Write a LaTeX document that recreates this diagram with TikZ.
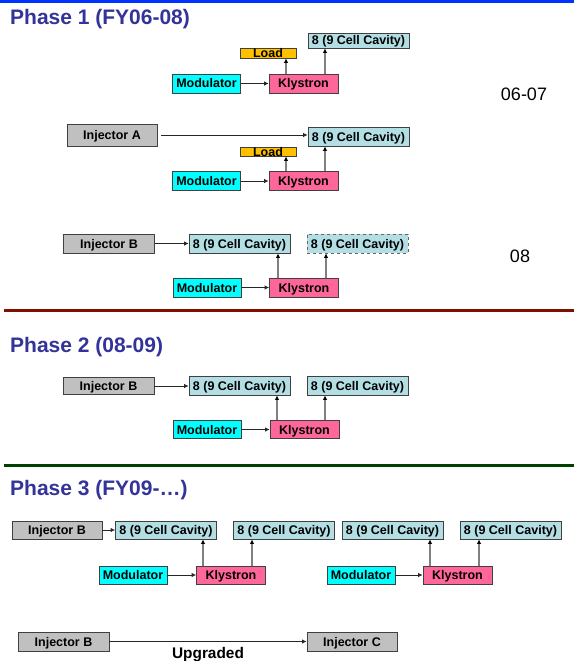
\documentclass[tikz,border=0pt]{standalone}
\usepackage{fontspec}
\setmainfont{Liberation Sans}
\usetikzlibrary{arrows.meta}

\definecolor{titleblue}{RGB}{51,51,153}
\definecolor{barblue}{RGB}{0,51,255}
\definecolor{barred}{RGB}{128,16,0}
\definecolor{bargreen}{RGB}{0,64,0}
\definecolor{modcyan}{RGB}{0,255,255}
\definecolor{klypink}{RGB}{255,102,153}
\definecolor{cavblue}{RGB}{178,222,228}
\definecolor{loadorange}{RGB}{255,192,0}
\definecolor{injgray}{RGB}{192,192,192}

\tikzset{
	box/.style={draw=black!75,line width=0.8pt,inner sep=0pt,minimum height=19pt,text height=9pt,text depth=0pt,font=\bfseries\fontsize{12.5}{14}\selectfont},
	modbox/.style={box,fill=modcyan,minimum width=68pt},
	klybox/.style={box,fill=klypink,minimum width=69pt},
	cavbox/.style={box,fill=cavblue,minimum width=101pt},
	injbox/.style={box,fill=injgray,minimum width=91pt},
	loadbox/.style={box,fill=loadorange,minimum width=56pt,minimum height=10pt},
	feed/.style={-{Latex[length=4.5pt,width=4.5pt]},line width=0.8pt,draw=black!85},
	rf/.style={-{Latex[length=4.5pt,width=4.5pt,black]},line width=1.1pt,draw=black!50},
	phase/.style={anchor=base west,text=titleblue,inner sep=0pt,font=\bfseries\fontsize{21}{24}\selectfont},
	year/.style={font=\fontsize{18}{20}\selectfont},
}

\begin{document}
\begin{tikzpicture}[x=1pt,y=-1pt]
	\useasboundingbox (0,0) rectangle (574,661);

	% section bars
	\draw[barblue,line width=3pt] (0,1.5) -- (574,1.5);
	\draw[barred,line width=3pt] (4,310) -- (574,310);
	\draw[bargreen,line width=3pt] (4,465) -- (574,465);

	% ---- phase 1
	\node[phase] (ph1) at (10,25) {Phase 1 (FY06-08)};
	\node[year] (y1) at (524,94) {06-07};
	\node[year] (y2) at (520,256) {08};

	\node[loadbox] (load1) at (268,53) {Load};
	\node[cavbox,minimum height=15pt] (cav1) at (358.5,40.5) {8 (9 Cell Cavity)};
	\node[modbox] (mod1) at (206.5,83.5) {Modulator};
	\node[klybox] (kly1) at (303.5,83.5) {Klystron};
	\draw[feed] (mod1) -- (kly1);
	\draw[rf] (kly1.north -| 286,0) -- (load1.south -| 286,0);
	\draw[rf] (kly1.north -| 325,0) -- (cav1.south -| 325,0);

	\node[injbox,minimum width=90pt,minimum height=22pt] (injA) at (112,135) {Injector A};
	\node[cavbox] (cav2) at (358.5,136.5) {8 (9 Cell Cavity)};
	\node[loadbox,minimum height=9pt] (load2) at (268,151.5) {Load};
	\node[modbox] (mod2) at (206.5,181) {Modulator};
	\node[klybox] (kly2) at (303.5,181) {Klystron};
	\draw[feed,shorten <=4pt] (injA.east) -- (cav2.west |- injA.east);
	\draw[feed] (mod2) -- (kly2);
	\draw[rf] (kly2.north -| 286,0) -- (load2.south -| 286,0);
	\draw[rf] (kly2.north -| 325,0) -- (cav2.south -| 325,0);

	\node[injbox] (injB1) at (109,243.5) {Injector B};
	\node[cavbox] (cav3) at (239.5,243.5) {8 (9 Cell Cavity)};
	\node[cavbox,dashed,draw=black!60] (cav4) at (357.5,243.5) {8 (9 Cell Cavity)};
	\node[modbox] (mod3) at (207,287.5) {Modulator};
	\node[klybox] (kly3) at (304,287.5) {Klystron};
	\draw[feed] (injB1) -- (cav3);
	\draw[feed] (mod3) -- (kly3);
	\draw[rf] (kly3.north -| 278,0) -- (cav3.south -| 278,0);
	\draw[rf] (kly3.north -| 326,0) -- (cav4.south -| 326,0);

	% ---- phase 2
	\node[phase] (ph2) at (10,352) {Phase 2 (08-09)};

	\node[injbox,minimum height=17pt] (injB2) at (108.5,386) {Injector B};
	\node[cavbox] (cav5) at (239.5,385.5) {8 (9 Cell Cavity)};
	\node[cavbox] (cav6) at (357.5,385.5) {8 (9 Cell Cavity)};
	\node[modbox,minimum height=18pt] (mod4) at (207,429.5) {Modulator};
	\node[klybox,minimum height=18pt] (kly4) at (304.5,429.5) {Klystron};
	\draw[feed] (injB2) -- (cav5.west |- injB2);
	\draw[feed] (mod4) -- (kly4);
	\draw[rf] (kly4.north -| 277,0) -- (cav5.south -| 277,0);
	\draw[rf] (kly4.north -| 325,0) -- (cav6.south -| 325,0);

	% ---- phase 3
	\node[phase] (ph3) at (10,495) {Phase 3 (FY09-\dots)};

	\node[injbox,minimum width=90pt,minimum height=18pt] (injB3) at (57,530) {Injector B};
	\node[cavbox,minimum height=18pt] (cav7) at (166,530) {8 (9 Cell Cavity)};
	\node[cavbox,minimum height=18pt] (cav8) at (284,530) {8 (9 Cell Cavity)};
	\node[cavbox,minimum height=18pt] (cav9) at (392.5,530) {8 (9 Cell Cavity)};
	\node[cavbox,minimum height=18pt] (cav10) at (510.5,530) {8 (9 Cell Cavity)};
	\node[modbox,minimum height=18pt] (mod5) at (133,575) {Modulator};
	\node[klybox,minimum height=18pt] (kly5) at (231,575) {Klystron};
	\node[modbox,minimum height=18pt] (mod6) at (361,575) {Modulator};
	\node[klybox,minimum height=18pt] (kly6) at (457.5,575) {Klystron};
	\draw[feed] (injB3) -- (cav7);
	\draw[feed] (mod5) -- (kly5);
	\draw[feed] (mod6) -- (kly6);
	\draw[rf] (kly5.north -| 203,0) -- (cav7.south -| 203,0);
	\draw[rf] (kly5.north -| 252,0) -- (cav8.south -| 252,0);
	\draw[rf] (kly6.north -| 430,0) -- (cav9.south -| 430,0);
	\draw[rf] (kly6.north -| 479,0) -- (cav10.south -| 479,0);

	\node[injbox] (injB4) at (63.5,641.5) {Injector B};
	\node[injbox,minimum width=90pt] (injC) at (352,641.5) {Injector C};
	\draw[feed] (injB4) -- (injC) node[midway,below=5pt,inner sep=0pt,font=\bfseries\fontsize{15.4}{17}\selectfont] (upg) {Upgraded};
\end{tikzpicture}
\end{document}
